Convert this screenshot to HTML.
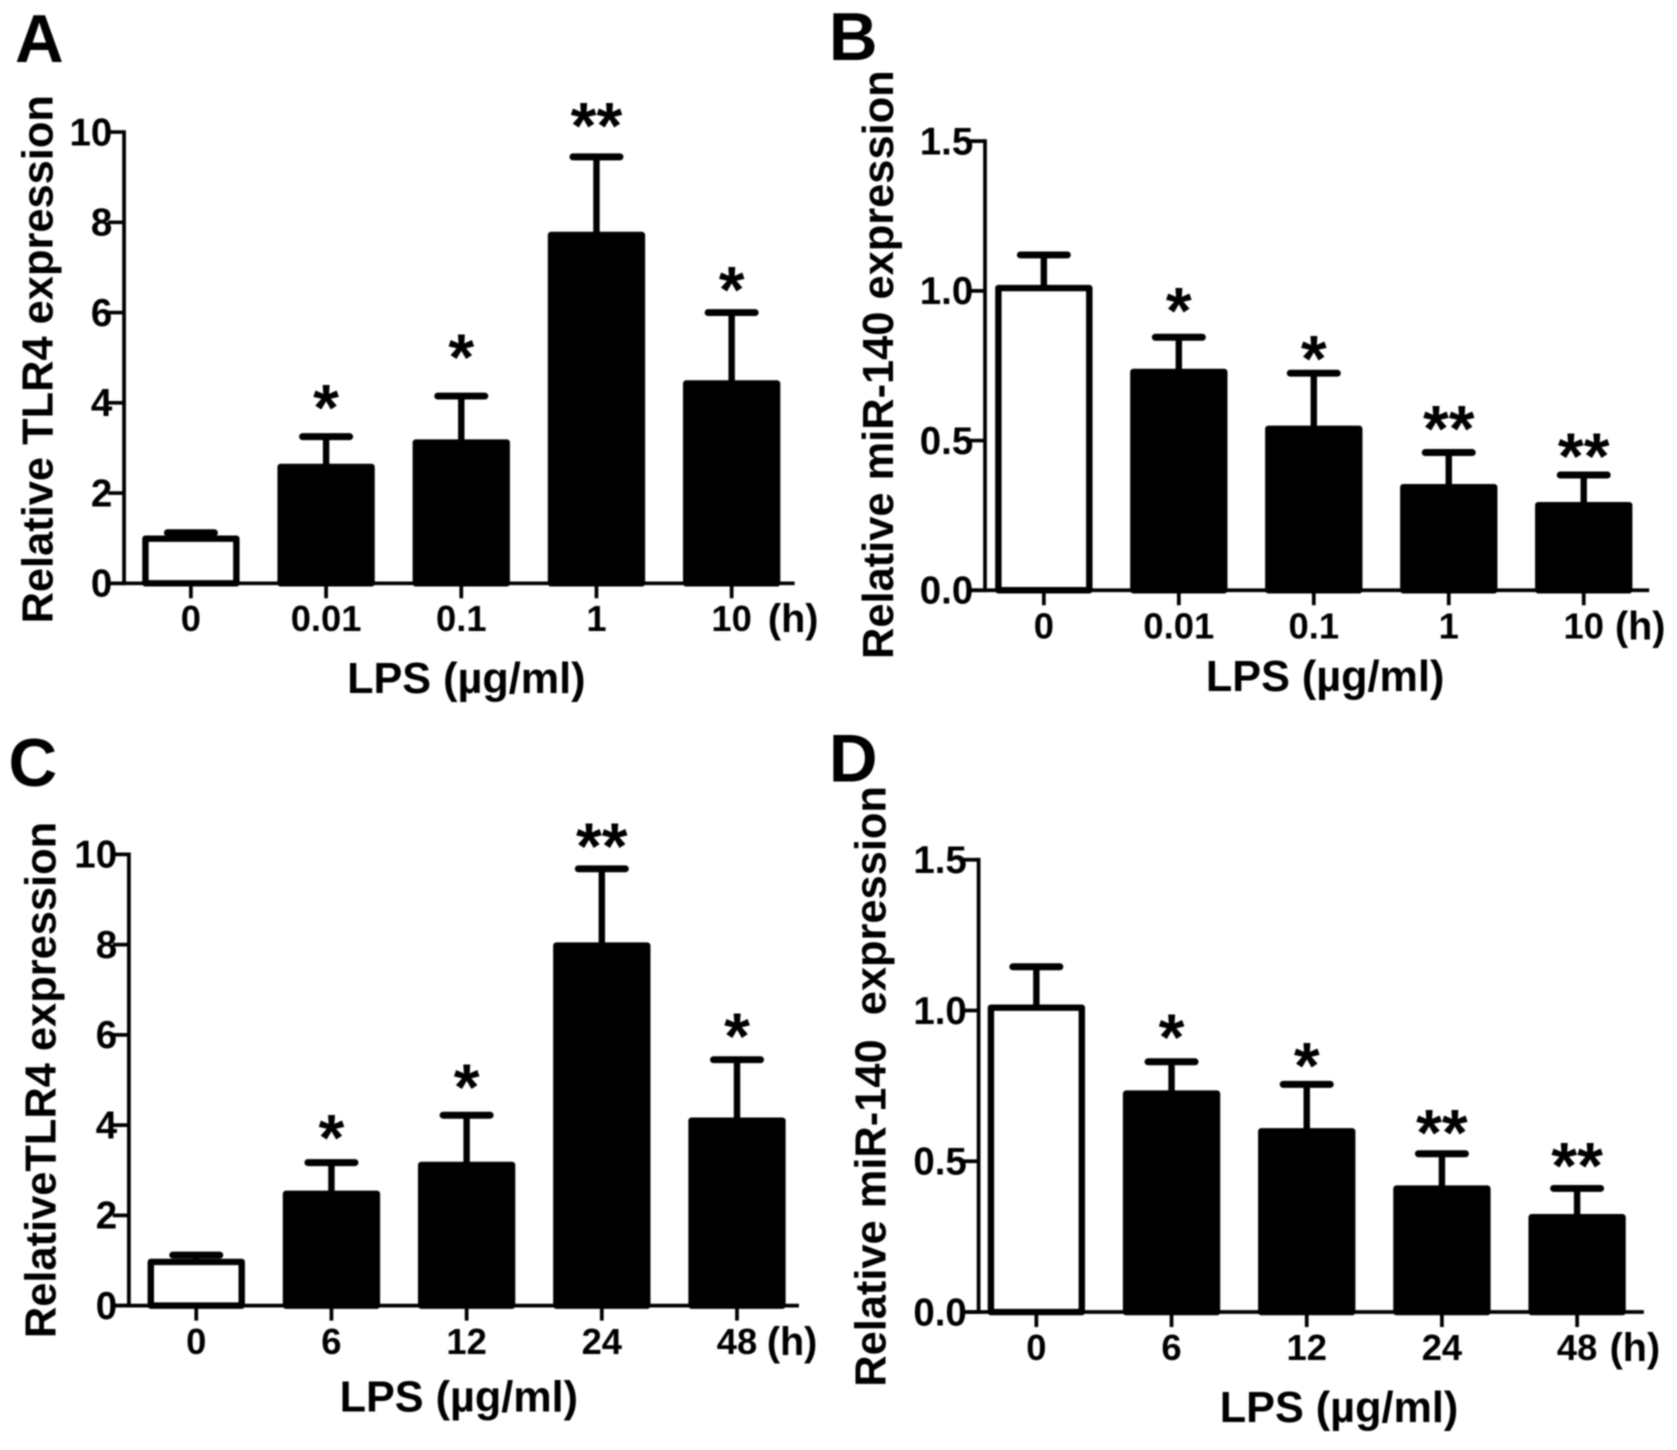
<!DOCTYPE html>
<html lang="en">
<head>
<meta charset="utf-8">
<title>LPS effects on TLR4 and miR-140 expression</title>
<style>
html,body{margin:0;padding:0;background:#fff;width:1677px;height:1450px;overflow:hidden}
svg{display:block;filter:blur(0.8px)}
text{font-family:"Liberation Sans",Arial,sans-serif;font-weight:bold;fill:#000}
.letter{font-size:63px}
.ytitle{font-size:40.6px;text-anchor:middle;white-space:pre}
.xtitle{font-size:40.4px;text-anchor:middle}
.tick{font-size:34px}
.ytick{font-size:36px}
.unit{font-size:37px}
.star{font-size:62px;text-anchor:middle}
</style>
</head>
<body>
<svg id="fig" xmlns="http://www.w3.org/2000/svg" width="1677" height="1450" viewBox="0 0 1568 1356" preserveAspectRatio="none">
  <rect x="0" y="0" width="1568" height="1356" fill="#fff"/>

  <text class="letter" x="14" y="58">A</text>
  <text class="letter" x="775" y="56">B</text>
  <text class="letter" x="8" y="735">C</text>
  <text class="letter" x="775" y="731">D</text>

  <text class="ytitle" transform="translate(49,336) rotate(-90)">Relative TLR4 expression</text>
  <text class="ytitle" transform="translate(835,341) rotate(-90)">Relative miR-140 expression</text>
  <text class="ytitle" transform="translate(52,1010) rotate(-90)">RelativeTLR4 expression</text>
  <text class="ytitle" transform="translate(828,1016) rotate(-90)">Relative miR-140  expression</text>

  <text class="xtitle" x="436" y="648">LPS (µg/ml)</text>
  <text class="xtitle" x="1239" y="646">LPS (µg/ml)</text>
  <text class="xtitle" x="429" y="1320">LPS (µg/ml)</text>
  <text class="xtitle" x="1252" y="1330">LPS (µg/ml)</text>

  <text class="unit" x="718" y="591">(h)</text>
  <text class="unit" x="1510" y="598">(h)</text>
  <text class="unit" x="717" y="1267">(h)</text>
  <text class="unit" x="1505" y="1273">(h)</text>
</svg>
<script>
// Panel A
var aCategories = ['0', '0.01', '0.1', '1', '10'];
var aValues = [1.06, 2.65, 3.19, 7.79, 4.5];
var aErrorTops = [1.12, 3.25, 4.15, 9.45, 6.0];
var aStars = ['', '*', '*', '**', '*'];
var aStarOffsets = [0, 0.85, 1.07, 0.9, 0.71];
var aTicks = ['0', '2', '4', '6', '8', '10'];

// Panel B
var bCategories = ['0', '0.01', '0.1', '1', '10'];
var bValues = [1.02, 0.74, 0.55, 0.355, 0.295];
var bErrorTops = [1.12, 0.845, 0.725, 0.46, 0.385];
var bStars = ['', '*', '*', '**', '**'];
var bStarOffsets = [0, 0.12, 0.08, 0.11, 0.093];
var bTicks = ['0.0', '0.5', '1.0', '1.5'];

// Panel C
var cCategories = ['0', '6', '12', '24', '48'];
var cValues = [1.04, 2.55, 3.19, 8.05, 4.17];
var cErrorTops = [1.12, 3.17, 4.22, 9.68, 5.45];
var cStars = ['', '*', '*', '**', '*'];
var cStarOffsets = [0, 0.76, 0.83, 0.71, 0.73];
var cTicks = ['0', '2', '4', '6', '8', '10'];

// Panel D
var dCategories = ['0', '6', '12', '24', '48'];
var dValues = [1.02, 0.735, 0.61, 0.42, 0.325];
var dErrorTops = [1.145, 0.83, 0.755, 0.525, 0.41];
var dStars = ['', '*', '*', '**', '**'];
var dStarOffsets = [0, 0.113, 0.092, 0.1, 0.106];
var dTicks = ['0.0', '0.5', '1.0', '1.5'];

var NS = 'http://www.w3.org/2000/svg';
var svg = document.getElementById('fig');

function make(tag, attrs, parent) {
  var el = document.createElementNS(NS, tag);
  for (var k in attrs) { el.setAttribute(k, attrs[k]); }
  parent.appendChild(el);
  return el;
}

function drawPanel(id, g, cats, vals, errs, stars, starOffs, ticks) {
  var root = make('g', {}, svg);
  
  

  var maxV = parseFloat(ticks[ticks.length - 1]);
  function Y(v) { return g.y0 + (g.yTop - g.y0) * v / maxV; }
  function X(i) { return g.x0 + g.step * i; }

  vals.forEach(function (v, i) {
    var cx = X(i);
    var top = Y(v);
    var capY = Y(errs[i]);

    var stem = make('line', { x1: cx, x2: cx, y1: capY, y2: top + 3, stroke: '#000', 'stroke-width': 6 }, root);
    
    

    var cap = make('line', { x1: cx - 22, x2: cx + 22, y1: capY, y2: capY, stroke: '#000', 'stroke-width': 6.5, 'stroke-linecap': 'round' }, root);
    
    

    var bar = make('rect', {
      x: cx - 42.5, y: top + 3, width: 85, height: g.y0 - top - 3,
      fill: i === 0 ? '#fff' : '#000', stroke: '#000', 'stroke-width': 6, 'stroke-linejoin': 'round'
    }, root);
    
    

    if (stars[i]) {
      var star = make('text', { 'class': 'star', x: cx, y: Y(errs[i] + starOffs[i]) + 30 }, root);
      star.textContent = stars[i];
      
      
    }

    var tick = make('line', { x1: cx, x2: cx, y1: g.y0, y2: g.y0 + 14, stroke: '#000', 'stroke-width': 3.5 }, root);
    
    

    var label = make('text', { 'class': 'tick', x: cx, y: g.xLabelY, 'text-anchor': 'middle' }, root);
    label.textContent = cats[i];
    
    
  });

  ticks.forEach(function (t) {
    var y = Y(parseFloat(t));
    var tk = make('line', { x1: g.axisX - 15, x2: g.axisX, y1: y, y2: y, stroke: '#000', 'stroke-width': 3.5 }, root);
    
    

    var lb = make('text', { 'class': 'ytick', x: g.axisX - 11, y: y + 12.5, 'text-anchor': 'end' }, root);
    lb.textContent = t;
    
    
  });

  var yAxis = make('line', { x1: g.axisX, x2: g.axisX, y1: g.yTop - 1.75, y2: g.y0 + 1.75, stroke: '#000', 'stroke-width': 3.5 }, root);
  
  

  var xAxis = make('line', { x1: g.axisX - 15, x2: g.xEnd, y1: g.y0, y2: g.y0, stroke: '#000', 'stroke-width': 3.5 }, root);
  
  
}

drawPanel('a', { axisX: 116, yTop: 123.5, y0: 545.5, x0: 178.5, step: 126.4, xEnd: 743, xLabelY: 590 },
  aCategories, aValues, aErrorTops, aStars, aStarOffsets, aTicks);
drawPanel('b', { axisX: 921, yTop: 132, y0: 552, x0: 976, step: 126.2, xEnd: 1542, xLabelY: 597 },
  bCategories, bValues, bErrorTops, bStars, bStarOffsets, bTicks);
drawPanel('c', { axisX: 120.5, yTop: 799, y0: 1221, x0: 183.5, step: 126.4, xEnd: 747, xLabelY: 1266 },
  cCategories, cValues, cErrorTops, cStars, cStarOffsets, cTicks);
drawPanel('d', { axisX: 915, yTop: 804, y0: 1227, x0: 969, step: 126.4, xEnd: 1537, xLabelY: 1272 },
  dCategories, dValues, dErrorTops, dStars, dStarOffsets, dTicks);
</script>
</body>
</html>
